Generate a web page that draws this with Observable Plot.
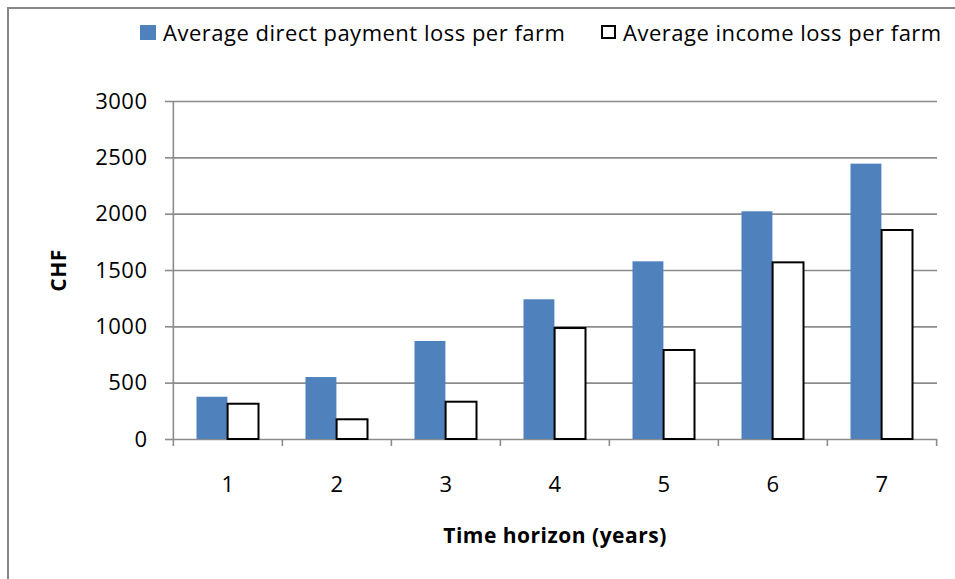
<!DOCTYPE html>
<html>
<head>
<meta charset="utf-8">
<script src="https://cdn.jsdelivr.net/npm/d3@7"></script>
<script src="https://cdn.jsdelivr.net/npm/@observablehq/plot@0.6"></script>
<style>
  html, body { margin: 0; padding: 0; background: #fff; }
  #wrap { position: relative; width: 955px; height: 579px; overflow: hidden; font-family: "Open Sans", sans-serif; }
  #border { position: absolute; left: 7px; top: 7px; width: 2000px; height: 2000px; border-left: 2px solid #868686; border-top: 2px solid #868686; }
  #legend { position: absolute; top: 18px; left: 0; width: 955px; height: 28px; font-size: 22px; letter-spacing: 0.5px; color: #000; }
  .item { position: absolute; top: 0; display: flex; align-items: center; white-space: nowrap; line-height: 28px; }
  .swatch { display: inline-block; width: 16px; height: 15px; margin-right: 7px; box-sizing: border-box; }
  #chart { position: absolute; left: 0; top: 0; }
  #chart text { letter-spacing: 0.5px; }
</style>
</head>
<body>
<div id="wrap">
  <div id="border"></div>
  <div id="legend"></div>
  <div id="chart"></div>
</div>
<script>
// Time horizon in years
const years = [1, 2, 3, 4, 5, 6, 7];
// Average direct payment loss per farm (CHF)
const directPaymentLoss = [375, 550, 870, 1240, 1577, 2021, 2444];
// Average income loss per farm (CHF)
const incomeLoss = [313, 175, 331, 985, 790, 1568, 1855];
const yTicks = [0, 500, 1000, 1500, 2000, 2500, 3000];

const seriesNames = ["Average direct payment loss per farm", "Average income loss per farm"];
const blue = "#4f81bd";
const gridGray = "#8c8c8c";

const direct = years.map((year, i) => ({year, value: directPaymentLoss[i]}));
const income = years.map((year, i) => ({year, value: incomeLoss[i]}));

const W = 955, H = 579;
const mL = 172, mR = 18, mT = 101, mB = 140;
const band = (W - mL - mR) / years.length;

const chart = Plot.plot({
  width: W,
  height: H,
  marginLeft: mL,
  marginRight: mR,
  marginTop: mT,
  marginBottom: mB,
  style: {fontFamily: "'Open Sans', sans-serif", fontSize: "22px", color: "#000", background: "transparent", overflow: "visible"},
  x: {type: "band", domain: years, padding: 0, axis: null, label: null},
  y: {domain: [0, 3000], axis: null, label: null},
  marks: [
    // horizontal gridlines (the 0 line doubles as the category axis)
    Plot.ruleY(yTicks, {stroke: gridGray, strokeWidth: 1.6}),
    // value axis line
    Plot.ruleX([years[0]], {dx: -band / 2, y1: 0, y2: 3000, stroke: gridGray, strokeWidth: 1.6}),
    // category boundary ticks below the axis
    Plot.ruleX(years, {dx: -band / 2, y1: 0, y2: 0, insetBottom: -7, stroke: gridGray, strokeWidth: 1.6}),
    Plot.ruleX([years[years.length - 1]], {dx: band / 2, y1: 0, y2: 0, insetBottom: -7, stroke: gridGray, strokeWidth: 1.6}),
    // bars
    Plot.barY(direct, {x: "year", y: "value", fill: blue, insetLeft: 23.5, insetRight: 54.6}),
    Plot.barY(income, {x: "year", y: "value", fill: "#fff", stroke: "#000", strokeWidth: 2, insetLeft: 54.6, insetRight: 23.5}),
    // axes
    Plot.axisY(yTicks, {anchor: "left", label: null, tickFormat: (d) => String(d), tickSize: 7, tickPadding: 18, stroke: gridGray, strokeWidth: 1.6, fontSize: 22, fill: "#000"}),
    Plot.axisX({anchor: "bottom", label: null, tickSize: 0, tickPadding: 37, fontSize: 22, fill: "#000"}),
    // axis titles
    Plot.text(["CHF"], {frameAnchor: "left", dx: -113, rotate: -90, textAnchor: "middle", lineAnchor: "middle", fontWeight: "bold", fontSize: 21, fill: "#000"}),
    Plot.text(["Time horizon (years)"], {frameAnchor: "bottom", dy: 97, textAnchor: "middle", lineAnchor: "middle", fontWeight: "bold", fontSize: 21, fill: "#000"})
  ]
});
document.getElementById("chart").appendChild(chart);

// legend
const legend = document.getElementById("legend");
const items = [
  {label: seriesNames[0], left: 140, style: `background:${blue};`},
  {label: seriesNames[1], left: 601, style: "background:#fff;border:2px solid #000;width:15px;height:14px;"}
];
for (const it of items) {
  const el = document.createElement("div");
  el.className = "item";
  el.style.left = it.left + "px";
  el.innerHTML = `<span class="swatch" style="${it.style}"></span><span>${it.label}</span>`;
  legend.appendChild(el);
}
</script>
</body>
</html>
